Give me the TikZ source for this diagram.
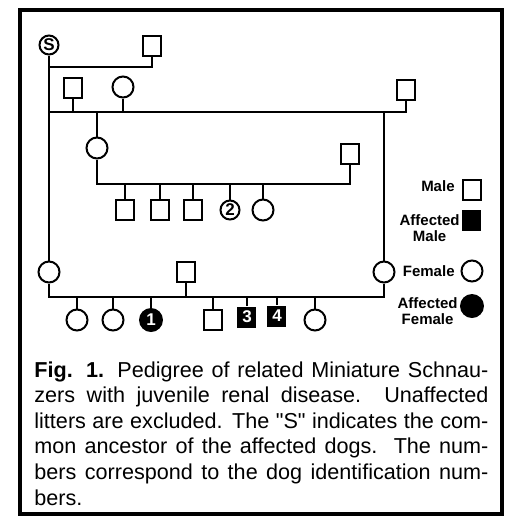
\documentclass[tikz,border=0pt]{standalone}
\usepackage{fontspec}
\setmainfont{Liberation Sans}
\newfontfamily\rawfont{Liberation Sans}
\usetikzlibrary{positioning}

\begin{document}
\begin{tikzpicture}[
    x=0.5pt, y=-0.5pt,
    male/.style={draw, rectangle, line width=1pt, minimum width=8.75pt, minimum height=10.25pt, inner sep=0pt},
    female/.style={draw, circle, line width=1pt, minimum size=10.5pt, inner sep=0pt},
    tagged/.style={minimum size=9.5pt, font=\fontsize{8.5}{9}\selectfont\bfseries},
    affmale/.style={rectangle, fill=black, minimum width=9.5pt, minimum height=10.5pt, inner sep=0pt, text=white, font=\fontsize{8.5}{9}\selectfont\bfseries},
    afffemale/.style={circle, fill=black, minimum size=12pt, inner sep=0pt, text=white, font=\fontsize{8.5}{9}\selectfont\bfseries},
    line/.style={line width=1pt},
    legend/.style={anchor=east, inner sep=0pt, align=center, font=\fontsize{7.5}{8}\selectfont\bfseries}
]
\useasboundingbox (0,0) rectangle (509,516);

% Frame
\draw[line width=2pt] (20,9.5) rectangle (502,514);

% Founders
\node[female, tagged] (S) at (49,45) {S};
\node[male] (sire) at (152,46) {};

% Second generation
\node[male] (m2) at (73,88) {};
\node[female] (f2) at (123,87) {};
\node[male] (m3) at (406,90) {};

% Third generation
\node[female] (f3) at (97,148) {};
\node[male] (m4) at (350,154) {};

% Litter of f3 and m4
\node[male] (a1) at (125,210) {};
\node[male] (a2) at (160,210) {};
\node[male] (a3) at (193,210) {};
\node[female, tagged] (a4) at (230,210) {2};
\node[female] (a5) at (263,210) {};

% Parents of the last litter
\node[female] (dam) at (49,272) {};
\node[male] (m5) at (186,272) {};
\node[female] (fR) at (384,272) {};

% Last litter
\node[female] (b1) at (77,320) {};
\node[female] (b2) at (113,320) {};
\node[afffemale] (b3) at (151,320) {1};
\node[male] (b4) at (213,320) {};
\node[affmale] (b5) at (247,317) {3};
\node[affmale] (b6) at (277,316) {4};
\node[female] (b7) at (315,320) {};

% Junctions
\coordinate (j1) at (152,67);
\coordinate (j2) at (406,112);
\coordinate (j3) at (350,184);
\coordinate (j4) at (384,297);

% Lines
\draw[line] (S) -- (dam);
\draw[line] (sire) -- (j1) -- (j1 -| S);
\draw[line] (m3) -- (j2) -- (j2 -| S);
\draw[line] (m2) -- (m2 |- j2);
\draw[line] (f2) -- (f2 |- j2);
\draw[line] (f3) -- (f3 |- j2);
\draw[line] (fR) -- (fR |- j2);
\draw[line] (m4) -- (j3) -- (j3 -| f3) -- (f3);
\foreach \c in {a1,a2,a3,a4,a5}
    \draw[line] (\c) -- (\c |- j3);
\draw[line] (fR) -- (j4) -- (j4 -| dam) -- (dam);
\draw[line] (m5) -- (m5 |- j4);
\foreach \i in {1,...,7}
    \draw[line] (b\i) -- (b\i |- j4);

% Legend
\node[male] (keym) at (472,190) {};
\node[legend] (keymt) at (455,186) {Male};
\node[affmale] (keyam) at (472,220) {};
\node[legend] (keyamt) at (460,228) {Affected\\Male};
\node[female] (keyf) at (472,271) {};
\node[legend] (keyft) at (455,271) {Female};
\node[afffemale] (keyaf) at (472,306) {};
\node[legend] (keyaft) at (458,311) {Affected\\Female};

% Caption
\node[anchor=north west, inner sep=0pt, text width=227pt, align=justify,
      font=\rawfont\fontsize{10.8}{12.8}\selectfont] (caption) at (34,361)
    {\hyphenpenalty=10000 \textbf{Fig. 1.} Pedigree of related Miniature Schnau-\linebreak
     zers with juvenile renal disease.\ \ Unaffected\linebreak
     litters are excluded. The "S" indicates the com-\linebreak
     mon ancestor of the affected dogs.\ \ The num-\linebreak
     bers correspond to the dog identification num-\linebreak
     bers.};

\end{tikzpicture}
\end{document}
